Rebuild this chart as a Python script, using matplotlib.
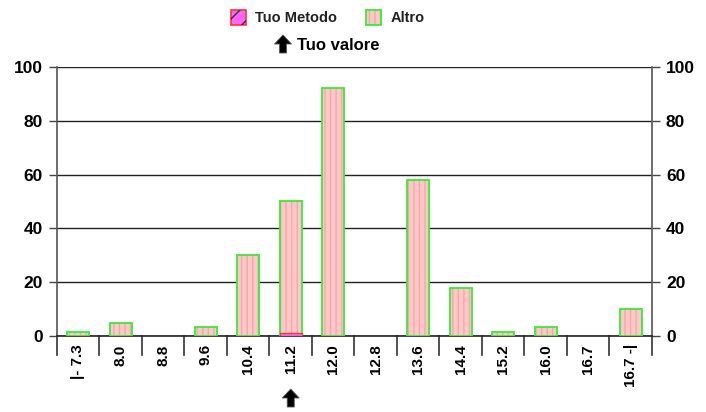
import matplotlib
matplotlib.use("Agg")
import matplotlib.pyplot as plt
import numpy as np
from matplotlib.patches import Rectangle, FancyArrow

categories = ["|- 7.3", "8.0", "8.8", "9.6", "10.4", "11.2", "12.0", "12.8",
              "13.6", "14.4", "15.2", "16.0", "16.7", "16.7 -|"]
altro = [1.5, 5, 0, 3.5, 30, 50, 92, 0, 58, 18, 1.5, 3.5, 0, 10]
tuo_metodo = [0, 0, 0, 0, 0, 1, 0, 0, 0, 0, 0, 0, 0, 0]
tuo_valore_idx = 5
yticks = [0, 20, 40, 60, 80, 100]

plt.rcParams["font.family"] = ["Liberation Sans", "DejaVu Sans"]
plt.rcParams["font.weight"] = "bold"
plt.rcParams["hatch.linewidth"] = 1.0

fig = plt.figure(figsize=(7.06, 4.12), dpi=100)
ax = fig.add_axes([0.0807, 0.1845, 0.8428, 0.653])

x = np.arange(len(categories))
altro = np.array(altro)
tuo_metodo = np.array(tuo_metodo)
m1 = altro > 0
# fill with pale vertical stripes, then green outline
ax.bar(x[m1], altro[m1], width=0.52, color="#ffc8c8", edgecolor="#f4a8a8",
       linewidth=0, hatch="|||", zorder=3)
ax.bar(x[m1], altro[m1], width=0.52, fill=False, edgecolor="#33ee33",
       linewidth=1.3, zorder=4)
m2 = tuo_metodo > 0
ax.bar(x[m2], tuo_metodo[m2], width=0.52, color="#ff66ff",
       edgecolor="#ff3333", linewidth=1.0, zorder=5)

ax.set_xlim(-0.5, len(categories) - 0.5)
ax.set_ylim(0, 100)
ax.set_yticks(yticks)
ax.yaxis.grid(True, color="#222222", linewidth=1.0, zorder=0)
ax.set_axisbelow(True)
ax.tick_params(axis="y", labelsize=12.5, length=6, width=1.0, color="#444444",
               labelright=True, right=True, pad=4)

ax.set_xticks(x)
ax.set_xticklabels(categories, rotation=90, fontsize=11)
ax.tick_params(axis="x", length=0, pad=6)

ax.spines["top"].set_visible(False)
for s in ("left", "right"):
    ax.spines[s].set_color("#555555")
    ax.spines[s].set_linewidth(1.2)
ax.spines["bottom"].set_color("#222222")
ax.spines["bottom"].set_linewidth(1.2)

# separators below axis
for b in np.arange(len(categories) + 1) - 0.5:
    ax.plot([b, b], [0, -7], color="#333333", linewidth=1.2, clip_on=False)

# legend
fig.patches.append(Rectangle((231 / 706, 1 - 25 / 412), 15 / 706, 15 / 412,
                             transform=fig.transFigure, facecolor="#ff66ff",
                             edgecolor="#ff3333", linewidth=1.2))
fig.patches.append(Rectangle((231 / 706, 1 - 25 / 412), 15 / 706, 15 / 412,
                             transform=fig.transFigure, fill=False,
                             edgecolor="#333333", linewidth=0, hatch="//"))
fig.text(255 / 706, 1 - 17.5 / 412, "Tuo Metodo", fontsize=10.5,
         color="#222222", va="center")
fig.patches.append(Rectangle((366 / 706, 1 - 25 / 412), 15 / 706, 15 / 412,
                             transform=fig.transFigure, facecolor="#ffc8c8",
                             edgecolor="#f4a8a8", linewidth=0, hatch="|||"))
fig.patches.append(Rectangle((366 / 706, 1 - 25 / 412), 15 / 706, 15 / 412,
                             transform=fig.transFigure, fill=False,
                             edgecolor="#33ee33", linewidth=1.3))
fig.text(391 / 706, 1 - 17.5 / 412, "Altro", fontsize=10.5,
         color="#222222", va="center")


def up_arrow(cx, cy):
    fig.patches.append(FancyArrow(cx / 706, 1 - (cy + 9) / 412,
                                  0, 18 / 412, width=7 / 706,
                                  head_width=17 / 706, head_length=9 / 412,
                                  length_includes_head=True,
                                  transform=fig.transFigure, facecolor="black",
                                  edgecolor="#555555", linewidth=0.6))


up_arrow(283, 44)
fig.text(297 / 706, 1 - 45 / 412, "Tuo valore", fontsize=12,
         color="black", va="center")

xpix = ax.transData.transform((tuo_valore_idx, 0))[0]
up_arrow(xpix, 398)

fig.savefig("out.png", dpi=100)
